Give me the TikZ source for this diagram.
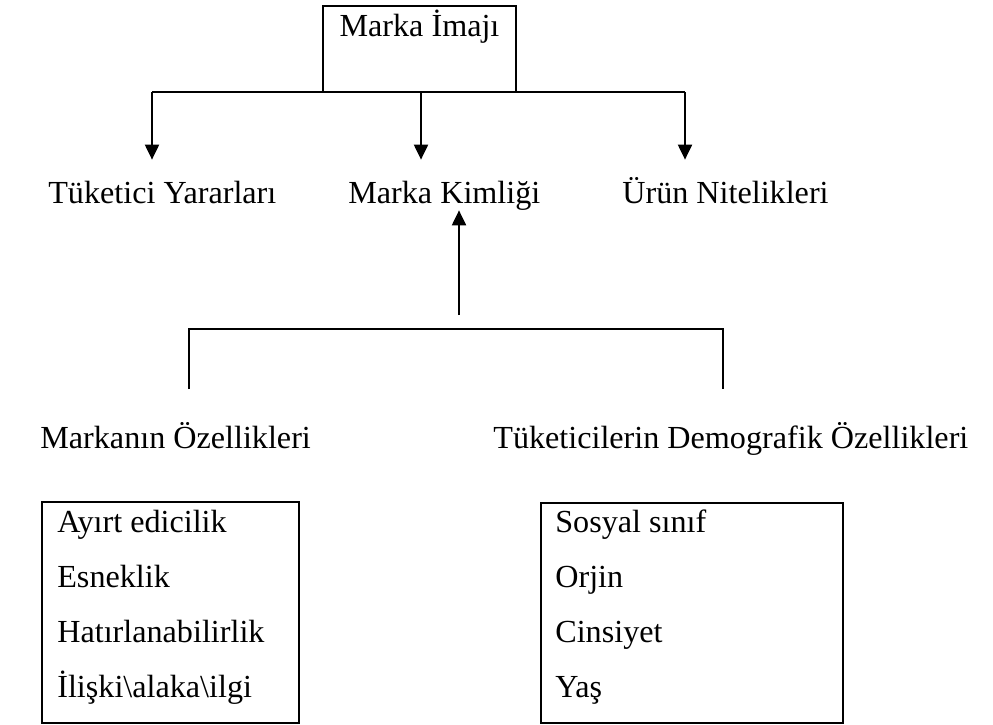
\documentclass[tikz,border=0pt]{standalone}
\usepackage{fontspec}
\setmainfont{Liberation Serif}
\usepackage{tikz}
\usetikzlibrary{arrows.meta}

\tikzset{
	lbl/.style = {inner sep=0pt, anchor=base west, text height=14pt, text depth=4pt, font=\fontsize{18.3}{22}\selectfont},
	conn/.style = {line width=1pt},
	arr/.style = {conn, -{Triangle[length=8.5pt, width=8pt]}},
	framebox/.style = {draw, line width=1.5pt, inner sep=0pt, fill=white}
}

\begin{document}
\begin{tikzpicture}[x=0.02cm, y=-0.02cm]
		\useasboundingbox (0,0) rectangle (993,724);
		% first row
		\node[lbl] (tuk) at (48,203) {Tüketici Yararları};
		\node[lbl] (kim) at (348,203) {Marka Kimliği};
		\node[lbl] (urun) at (622,203) {Ürün Nitelikleri};
		\coordinate (b1) at (152,92);
		\coordinate (b2) at (421,92);
		\coordinate (b3) at (685,92);
		\draw[conn] (b1) -- (b3);
		\draw[arr, shorten >=10.5pt] (b1) -- (b1 |- tuk.north);
		\draw[arr, shorten >=10.5pt] (b2) -- (b2 |- kim.north);
		\draw[arr, shorten >=10.5pt] (b3) -- (b3 |- urun.north);
		% top box
		\node[framebox, minimum width=3.86cm, minimum height=1.72cm] (img) at (419.5,49) {};
		\node[lbl, anchor=base] (imgtxt) at (419.5,36) {Marka İmajı};
		% second row
		\node[lbl] (mozel) at (40,448) {Markanın Özellikleri};
		\node[lbl] (tdem) at (493,448) {Tüketicilerin Demografik Özellikleri};
		\coordinate (up) at (459,315);
		\coordinate (c1) at (189,389);
		\coordinate (c2) at (723,389);
		\draw[conn] (c1) -- (189,329) -- (723,329) -- (c2);
		\draw[arr] (up) -- (up |- kim.south);
		% lists
		\node[framebox, minimum width=5.14cm, minimum height=4.42cm] (mbox) at (170.5,612.5) {};
		\node[framebox, minimum width=6.04cm, minimum height=4.4cm] (tbox) at (692,613) {};
		\foreach \t [count=\i] in {Ayırt edicilik, Esneklik, Hatırlanabilirlik, {İlişki\textbackslash alaka\textbackslash ilgi}}
			\node[lbl] (m\i) at (57,477+55*\i) {\t};
		\foreach \t [count=\i] in {Sosyal sınıf, Orjin, Cinsiyet, Yaş}
			\node[lbl] (t\i) at (555,477+55*\i) {\t};
	\end{tikzpicture}
\end{document}
